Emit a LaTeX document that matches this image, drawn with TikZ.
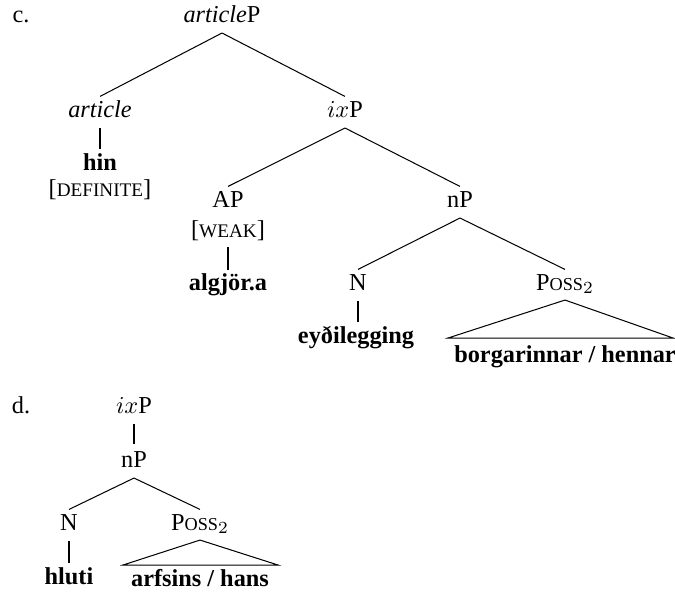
\documentclass[tikz,border=0pt]{standalone}
\usepackage{fontspec}
\setmainfont{Liberation Serif}
\newcommand{\mysc}[1]{{\fontsize{7.9}{9}\selectfont #1}}
\newcommand{\myscp}[1]{{\fontsize{7.5}{9}\selectfont #1}}
\begin{document}
\begin{tikzpicture}[x=0.41152pt,y=-0.41152pt,
  lab/.style={inner sep=0pt,text height=7pt,text depth=2pt,font=\fontsize{10}{12}\selectfont},
  br/.style={line width=0.42pt},
  tri/.style={line width=0.42pt,line join=miter}]
\useasboundingbox (0,0) rectangle (675,591);
% ---- c.
\node[lab] (lc) at (21,16) {c.};
\node[lab] (artP) at (222,16) {\textit{article}P};
\node[lab] (art) at (100,111) {\textit{article}};
\node[lab] (ixP) at (345,111) {$ix$P};
\node[lab] (hin) at (100,164) {\textbf{hin}};
\node[lab] (def) at (100,190) {[\mysc{DEFINITE}]};
\node[lab] (AP) at (228,201) {AP};
\node[lab] (nP) at (460,201) {nP};
\node[lab] (weak) at (228,231) {[\mysc{WEAK}]};
\node[lab] (alg) at (228,284) {\textbf{algjör.a}};
\node[lab] (N) at (358,284) {N};
\node[lab] (poss) at (565,284) {P\myscp{OSS}$_2$};
\node[lab] (eyd) at (356,337) {\textbf{eyðilegging}};
\node[lab] (borg) at (565,356) {\textbf{borgarinnar / hennar}};
\draw[br] ([yshift=-7pt]artP.center) -- ([yshift=6pt]art.center);
\draw[br] ([yshift=-7pt]artP.center) -- ([yshift=6pt]ixP.center);
\draw[br] ([yshift=-7pt]art.center) -- ([yshift=6pt]hin.center);
\draw[br] ([yshift=-7pt]ixP.center) -- ([yshift=6pt]AP.center);
\draw[br] ([yshift=-7pt]ixP.center) -- ([yshift=6pt]nP.center);
\draw[br] ([yshift=-6.6pt]weak.center) -- ([yshift=5.6pt]alg.center);
\draw[br] ([yshift=-7pt]nP.center) -- ([yshift=6pt]N.center);
\draw[br] ([yshift=-7pt]nP.center) -- ([yshift=6pt]poss.center);
\draw[br] ([yshift=-7pt]N.center) -- ([yshift=6pt]eyd.center -| N.center);
\coordinate (pa) at ([yshift=-6.6pt]poss.center);
\coordinate (pl) at (448,338);
\coordinate (pr) at (673,338);
\draw[tri] (pa) -- (pl) -- (pr) -- cycle;
% ---- d.
\node[lab] (ld) at (21,407) {d.};
\node[lab] (dixP) at (134,407) {$ix$P};
\node[lab] (dnP) at (134,461) {nP};
\node[lab] (dN) at (69,524) {N};
\node[lab] (dposs) at (200,524) {P\myscp{OSS}$_2$};
\node[lab] (hluti) at (69,578) {\textbf{hluti}};
\node[lab] (arf) at (200,580) {\textbf{arfsins / hans}};
\draw[br] ([yshift=-7pt]dixP.center) -- ([yshift=7pt]dnP.center);
\draw[br] ([yshift=-7pt]dnP.center) -- ([yshift=6pt]dN.center);
\draw[br] ([yshift=-7pt]dnP.center) -- ([yshift=6pt]dposs.center);
\draw[br] ([yshift=-7pt]dN.center) -- ([yshift=6pt]hluti.center);
\coordinate (qa) at ([yshift=-6.6pt]dposs.center);
\coordinate (ql) at (123,565);
\coordinate (qr) at (278,565);
\draw[tri] (qa) -- (ql) -- (qr) -- cycle;
\end{tikzpicture}
\end{document}
